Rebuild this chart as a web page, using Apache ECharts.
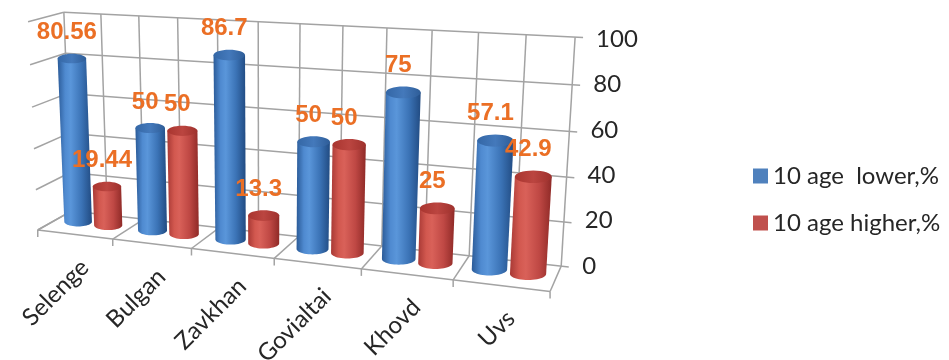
<!DOCTYPE html>
<html>
<head>
<meta charset="utf-8">
<script src="https://cdn.jsdelivr.net/npm/echarts@6/dist/echarts.min.js"></script>
<style>
  html, body { margin: 0; padding: 0; background: #ffffff; }
  #chart { width: 949px; height: 360px; }
</style>
</head>
<body>
<div id="chart"></div>
<script>
// ---- data ----
const categories = ['Selenge', 'Bulgan', 'Zavkhan', 'Govialtai', 'Khovd', 'Uvs'];
const lowerShare = [80.56, 50, 86.7, 50, 75, 57.1];
const higherShare = [19.44, 50, 13.3, 50, 25, 42.9];
const valueTicks = [0, 20, 40, 60, 80, 100];
const seriesNames = ['10 age  lower,%', '10 age higher,%'];

// ---- 3D box projection ----
// World space: X runs along the categories (one unit per category),
// Y is the fraction of the value axis (0..1), Z is depth (0 = back wall, 1 = front edge of floor).
// A projective camera is fitted to where the corners of the plot box sit on the canvas.
const boxAnchors = [
  [0, 0, 0, 70, 213], [6, 0, 0, 562, 263], [0, 1, 0, 65, 12], [6, 1, 0, 575, 38],
  [3, 1, 0, 300, 24], [0, 0, 1, 40, 227], [6, 0, 1, 550, 292], [3, 0, 1, 273, 262],
  [0, 1, 1, 27, 21]
];

function fitCamera(anchors) {
  const S = 500;
  const rows = [], rhs = [];
  anchors.forEach(([X, Y, Z, u0, v0]) => {
    const x = X / 6, u = u0 / S, v = v0 / S;
    rows.push([x, Y, Z, 1, 0, 0, 0, 0, -u * x, -u * Y, -u * Z]); rhs.push(u);
    rows.push([0, 0, 0, 0, x, Y, Z, 1, -v * x, -v * Y, -v * Z]); rhs.push(v);
  });
  const n = 11;
  const M = [];
  for (let i = 0; i < n; i++) {
    M.push(new Array(n + 1).fill(0));
    for (let j = 0; j < n; j++) {
      let s = 0;
      for (let r = 0; r < rows.length; r++) s += rows[r][i] * rows[r][j];
      M[i][j] = s;
    }
    let s = 0;
    for (let r = 0; r < rows.length; r++) s += rows[r][i] * rhs[r];
    M[i][n] = s;
  }
  for (let c = 0; c < n; c++) {
    let piv = c;
    for (let r = c + 1; r < n; r++) if (Math.abs(M[r][c]) > Math.abs(M[piv][c])) piv = r;
    [M[c], M[piv]] = [M[piv], M[c]];
    for (let r = 0; r < n; r++) {
      if (r === c) continue;
      const f = M[r][c] / M[c][c];
      for (let k = c; k <= n; k++) M[r][k] -= f * M[c][k];
    }
  }
  const p = M.map((row, i) => row[n] / row[i]);
  return function (X, Y, Z) {
    const x = X / 6;
    const w = p[8] * x + p[9] * Y + p[10] * Z + 1;
    return [
      S * (p[0] * x + p[1] * Y + p[2] * Z + p[3]) / w,
      S * (p[4] * x + p[5] * Y + p[6] * Z + p[7]) / w
    ];
  };
}
const project = fitCamera(boxAnchors);

const yMax = valueTicks[valueTicks.length - 1];
const barDepth = 0.45;
const barOffsets = [-0.205, 0.205];
const barRadius = 0.19;
const gridStroke = '#a3a3a3';
const textFont = 'Lato';

const palettes = [
  { legend: '#4F81BD',
    body: [[0, '#2b5b98'], [0.22, '#4f8ad0'], [0.38, '#5a96da'], [0.7, '#3b73b6'], [1, '#214b82']],
    top: [[0, '#3467a6'], [0.5, '#4479bb'], [1, '#2e5d98']] },
  { legend: '#C0504D',
    body: [[0, '#a83935'], [0.22, '#d2584f'], [0.38, '#d96159'], [0.7, '#bf4844'], [1, '#8f2a27']],
    top: [[0, '#a9352f'], [0.5, '#bb4540'], [1, '#9e312d']] }
];

// normalized axis position of a value, taken from the value axis scale
function axisFraction(api, idx, v) {
  const base = api.coord([idx, 0])[1];
  const full = api.coord([idx, yMax])[1];
  return (base - api.coord([idx, v])[1]) / (base - full);
}

function line(a, b, width, color) {
  return { type: 'line', shape: { x1: a[0], y1: a[1], x2: b[0], y2: b[1] },
    style: { stroke: color || gridStroke, lineWidth: width || 1.5 }, silent: true };
}

function renderFrame(params, api) {
  const children = [];
  // back wall: value gridlines (ticks reach past the right edge)
  valueTicks.forEach(t => {
    const f = axisFraction(api, 0, t);
    children.push(line(project(0, f, 0), project(6.08, f, 0)));
    // side wall
    children.push(line(project(0, f, 1), project(0, f, 0)));
  });
  // back wall: vertical gridlines every half category
  for (let k = 0; k <= categories.length * 2; k++) {
    const X = k / 2;
    children.push(line(project(X, 0, 0), project(X, 1, 0)));
  }
  // floor: front edge, depth lines and ticks below the front edge
  children.push(line(project(0, 0, 1), project(categories.length, 0, 1)));
  for (let i = 0; i <= categories.length; i++) {
    const front = project(i, 0, 1);
    children.push(line(project(i, 0, 0), front));
    children.push(line(front, [front[0], front[1] + 7]));
  }
  // category labels along the front edge
  categories.forEach((name, i) => {
    const p = project(i + 0.5, 0, 1);
    children.push({
      type: 'text', x: p[0] + 10, y: p[1] + 29, rotation: Math.PI / 4, silent: true,
      style: { text: name, fontFamily: textFont, fontSize: 24, fill: '#262626',
        align: 'right', verticalAlign: 'middle' }
    });
  });
  return { type: 'group', children };
}

function makeBarRenderer(si) {
  const pal = palettes[si];
  return function (params, api) {
    const idx = api.value(0);
    const val = api.value(1);
    const f = axisFraction(api, idx, val);
    const xc = idx + 0.5 + barOffsets[si];
    const b = project(xc, 0, barDepth);
    const bl = project(xc - barRadius, 0, barDepth);
    const br = project(xc + barRadius, 0, barDepth);
    const t = project(xc, f, barDepth);
    const tl = project(xc - barRadius, f, barDepth);
    const tr = project(xc + barRadius, f, barDepth);
    const hb = (br[0] - bl[0]) / 2;
    const ht = (tr[0] - tl[0]) / 2;
    const ryb = hb * 0.34, ryt = ht * 0.34;
    const pts = [[t[0] - ht, t[1]], [t[0] + ht, t[1]]];
    for (let k = 0; k <= 24; k++) {
      const a = Math.PI * k / 24;
      pts.push([b[0] + hb * Math.cos(a), b[1] + ryb * Math.sin(a)]);
    }
    return {
      type: 'group',
      children: [
        { type: 'polygon', shape: { points: pts },
          style: { fill: new echarts.graphic.LinearGradient(0, 0, 1, 0,
            pal.body.map(([o, c]) => ({ offset: o, color: c }))) } },
        { type: 'ellipse', shape: { cx: t[0], cy: t[1], rx: ht, ry: ryt },
          style: { fill: new echarts.graphic.LinearGradient(0, 0, 1, 0,
            pal.top.map(([o, c]) => ({ offset: o, color: c }))) } },
        { type: 'text', x: t[0] - 5, y: t[1] - ryt - 21, z2: 10,
          style: { text: String(val), fontFamily: 'Liberation Sans', fontWeight: 'bold',
            fontSize: 24, fill: '#EB6F25', align: 'center', verticalAlign: 'middle' } }
      ]
    };
  };
}

// value axis labels follow the slanted right edge of the back wall
const edge0 = project(6, 0, 0);
const edgeTop = project(6, 1, 0);
const gridTop = edgeTop[1] + 2;
const gridBottom = 360 - edge0[1];
const gridRightX = 575;
const labelRich = {};
valueTicks.forEach(t => {
  const p = project(6, t / yMax, 0);
  labelRich['t' + t] = { fontFamily: textFont, fontSize: 24, color: '#262626',
    padding: [0, 0, 0, Math.max(0, p[0] - edge0[0])] };
});

const chart = echarts.init(document.getElementById('chart'), null, { renderer: 'canvas' });
chart.setOption({
  animation: false,
  backgroundColor: '#ffffff',
  grid: { left: 65, right: 949 - gridRightX, top: gridTop, bottom: gridBottom },
  xAxis: { type: 'category', data: categories, show: false },
  yAxis: {
    type: 'value', min: 0, max: yMax, interval: 20, position: 'right',
    axisLine: { show: false }, axisTick: { show: false }, splitLine: { show: false },
    axisLabel: {
      margin: edge0[0] + 21 - gridRightX,
      formatter: v => '{t' + v + '|' + v + '}',
      rich: labelRich
    }
  },
  legend: {
    orient: 'vertical', left: 748, top: 157, itemWidth: 15, itemHeight: 15, itemGap: 19,
    icon: 'rect', data: seriesNames,
    textStyle: { fontFamily: textFont, fontSize: 24, color: '#262626', lineHeight: 28 }
  },
  series: [
    { type: 'custom', name: 'frame', silent: true, z: 1,
      data: [[0, 0]], renderItem: renderFrame },
    { type: 'custom', name: seriesNames[0], z: 2, itemStyle: { color: palettes[0].legend },
      data: lowerShare.map((v, i) => [i, v]), encode: { x: 0, y: 1 },
      renderItem: makeBarRenderer(0) },
    { type: 'custom', name: seriesNames[1], z: 3, itemStyle: { color: palettes[1].legend },
      data: higherShare.map((v, i) => [i, v]), encode: { x: 0, y: 1 },
      renderItem: makeBarRenderer(1) }
  ]
});
</script>
</body>
</html>
